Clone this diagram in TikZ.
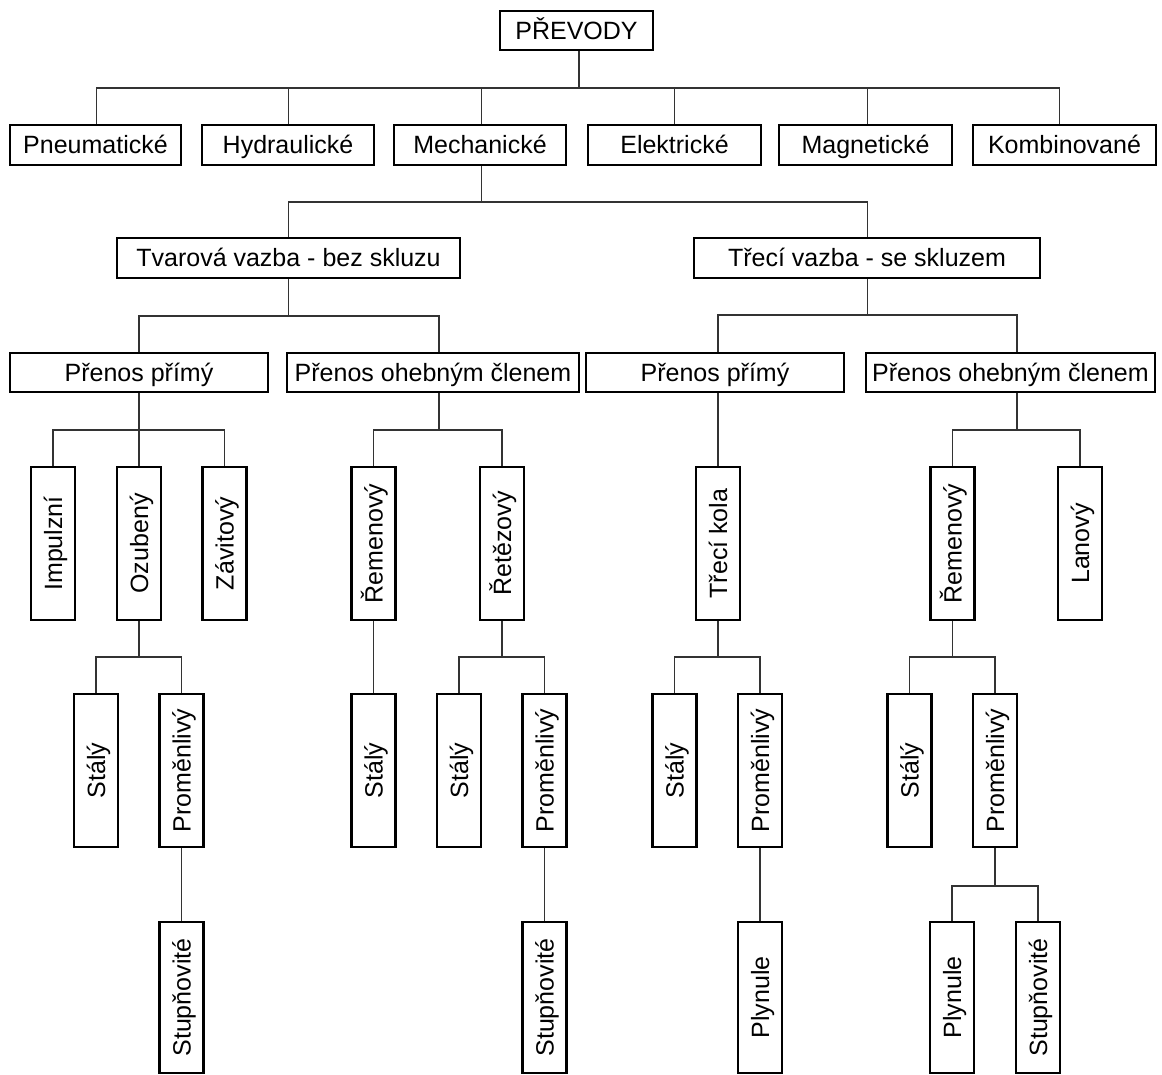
\documentclass[tikz,border=0pt]{standalone}
\usepackage{fontspec}
\setmainfont{Liberation Sans}
\newcommand{\vtext}[1]{\rotatebox{90}{\raisebox{0pt}[18pt][0pt]{#1}}}
\begin{document}
\begin{tikzpicture}[x=1pt,y=-1pt,
  box/.style={draw=black,line width=2.6pt,fill=white,inner sep=0pt,
    font=\fontsize{25}{29}\selectfont,text=black},
  hbox/.style={box,minimum height=39pt,text height=18pt,text depth=0pt},
  vbox/.style={box,minimum width=44pt,minimum height=153pt},
  conn/.style={draw=black!80,line width=1.1pt}]
\useasboundingbox (0,0) rectangle (1162,1075);
% level 0
\node[hbox,minimum width=153pt] (root) at (576.5,30.5) {PŘEVODY};
% level 1
\node[hbox,minimum width=171pt,minimum height=40pt] (pne) at (95.5,145) {Pneumatické};
\node[hbox,minimum width=172pt,minimum height=40pt] (hyd) at (288,145) {Hydraulické};
\node[hbox,minimum width=172pt,minimum height=40pt] (mech) at (480,145) {Mechanické};
\node[hbox,minimum width=173pt,minimum height=40pt] (ele) at (674.5,145) {Elektrické};
\node[hbox,minimum width=173pt,minimum height=40pt] (mag) at (865.5,145) {Magnetické};
\node[hbox,minimum width=183pt,minimum height=40pt] (kom) at (1064.5,145) {Kombinované};
% level 2
\node[hbox,minimum width=343pt,minimum height=40pt] (tva) at (288.5,258) {Tvarová vazba - bez skluzu};
\node[hbox,minimum width=346pt,minimum height=40pt] (tre) at (867,258) {Třecí vazba - se skluzem};
% level 3
\node[hbox,minimum width=258pt] (pp1) at (139,372.5) {Přenos přímý};
\node[hbox,minimum width=292pt] (po1) at (433,372.5) {Přenos ohebným členem};
\node[hbox,minimum width=258pt] (pp2) at (715,372.5) {Přenos přímý};
\node[hbox,minimum width=289pt] (po2) at (1010.5,372.5) {Přenos ohebným členem};
% level 4
\node[vbox] (imp) at (53,543.5) {\vtext{Impulzní}};
\node[vbox] (ozu) at (139,543.5) {\vtext{Ozubený}};
\node[vbox] (zav) at (224.5,543.5) {\vtext{Závitový}};
\node[vbox] (rem1) at (373.5,543.5) {\vtext{Řemenový}};
\node[vbox] (ret) at (502,543.5) {\vtext{Řetězový}};
\node[vbox] (trk) at (718,543.5) {\vtext{Třecí kola}};
\node[vbox] (rem2) at (952.5,543.5) {\vtext{Řemenový}};
\node[vbox] (lan) at (1080,543.5) {\vtext{Lanový}};
% level 5
\node[vbox] (sta1) at (96,770.5) {\vtext{Stálý}};
\node[vbox] (pro1) at (181.5,770.5) {\vtext{Proměnlivý}};
\node[vbox] (sta2) at (373.5,770.5) {\vtext{Stálý}};
\node[vbox] (sta3) at (459,770.5) {\vtext{Stálý}};
\node[vbox] (pro2) at (544.5,770.5) {\vtext{Proměnlivý}};
\node[vbox] (sta4) at (674.5,770.5) {\vtext{Stálý}};
\node[vbox] (pro3) at (760,770.5) {\vtext{Proměnlivý}};
\node[vbox] (sta5) at (909.5,770.5) {\vtext{Stálý}};
\node[vbox] (pro4) at (995,770.5) {\vtext{Proměnlivý}};
% level 6
\node[vbox,minimum height=151pt] (stu1) at (181.5,997.5) {\vtext{Stupňovité}};
\node[vbox,minimum height=151pt] (stu2) at (544.5,997.5) {\vtext{Stupňovité}};
\node[vbox,minimum height=151pt] (ply1) at (760,997.5) {\vtext{Plynule}};
\node[vbox,minimum height=151pt] (ply2) at (952,997.5) {\vtext{Plynule}};
\node[vbox,minimum height=151pt] (stu3) at (1038,997.5) {\vtext{Stupňovité}};
% bus points
\coordinate (b1) at (579,88);
\coordinate (b2) at (481.5,202);
\coordinate (b3) at (288.5,316);
\coordinate (b4) at (867.5,315);
\coordinate (b5) at (139,430);
\coordinate (b6) at (439,430);
\coordinate (b8) at (1017,430);
\coordinate (b9) at (139,657);
\coordinate (b10) at (502,657);
\coordinate (b11) at (718,657);
\coordinate (b12) at (952.5,657);
\coordinate (b13) at (995,886);
% connectors
\draw[conn] ([xshift=2.5pt]root.south) -- (b1);
\draw[conn] ([xshift=1pt]pne.north) |- (b1);
\draw[conn] ([xshift=0.5pt]hyd.north) |- (b1);
\draw[conn] ([xshift=1.5pt]mech.north) |- (b1);
\draw[conn] (ele.north) |- (b1);
\draw[conn] ([xshift=2pt]mag.north) |- (b1);
\draw[conn] ([xshift=-5pt]kom.north) |- (b1);
\draw[conn] ([xshift=1.5pt]mech.south) -- (b2);
\draw[conn] (tva.north) |- (b2);
\draw[conn] ([xshift=0.5pt]tre.north) |- (b2);
\draw[conn] (tva.south) -- (b3);
\draw[conn] (pp1.north) |- (b3);
\draw[conn] ([xshift=6pt]po1.north) |- (b3);
\draw[conn] ([xshift=0.5pt]tre.south) -- (b4);
\draw[conn] ([xshift=3pt]pp2.north) |- (b4);
\draw[conn] ([xshift=6.5pt]po2.north) |- (b4);
\draw[conn] (pp1.south) -- (b5);
\draw[conn] (imp.north) |- (b5);
\draw[conn] (ozu.north) -- (b5);
\draw[conn] (zav.north) |- (b5);
\draw[conn] ([xshift=6pt]po1.south) -- (b6);
\draw[conn] (rem1.north) |- (b6);
\draw[conn] (ret.north) |- (b6);
\draw[conn] ([xshift=3pt]pp2.south) -- (trk.north);
\draw[conn] ([xshift=6.5pt]po2.south) -- (b8);
\draw[conn] (rem2.north) |- (b8);
\draw[conn] (lan.north) |- (b8);
\draw[conn] (ozu.south) -- (b9);
\draw[conn] (sta1.north) |- (b9);
\draw[conn] (pro1.north) |- (b9);
\draw[conn] (rem1.south) -- (sta2.north);
\draw[conn] (ret.south) -- (b10);
\draw[conn] (sta3.north) |- (b10);
\draw[conn] (pro2.north) |- (b10);
\draw[conn] (trk.south) -- (b11);
\draw[conn] (sta4.north) |- (b11);
\draw[conn] (pro3.north) |- (b11);
\draw[conn] (rem2.south) -- (b12);
\draw[conn] (sta5.north) |- (b12);
\draw[conn] (pro4.north) |- (b12);
\draw[conn] (pro1.south) -- (stu1.north);
\draw[conn] (pro2.south) -- (stu2.north);
\draw[conn] (pro3.south) -- (ply1.north);
\draw[conn] (pro4.south) -- (b13);
\draw[conn] (ply2.north) |- (b13);
\draw[conn] (stu3.north) |- (b13);
\end{tikzpicture}
\end{document}
